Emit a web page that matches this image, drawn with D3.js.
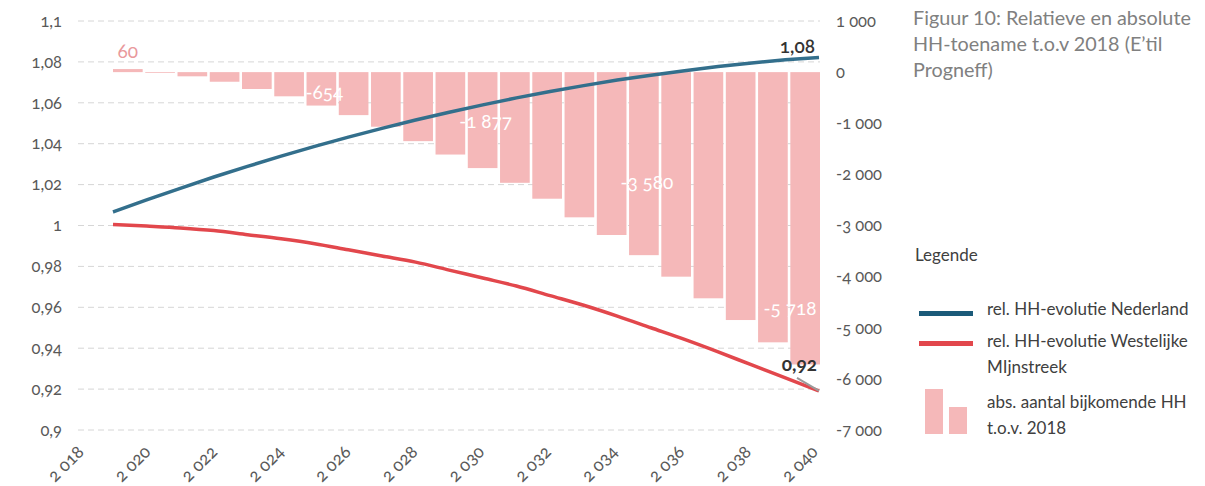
<!DOCTYPE html>
<html>
<head>
<meta charset="utf-8">
<script src="https://cdn.jsdelivr.net/npm/d3@7"></script>
<style>
  body { margin: 0; background: #fff; }
  svg { display: block; font-family: Lato, "Open Sans", sans-serif; }
  .num { font-variant-numeric: oldstyle-nums; font-feature-settings: "onum" 1; }
</style>
</head>
<body>
<svg id="chart" width="1205" height="486"></svg>
<script>
// Years with a bar / line value
const years = [2019, 2020, 2021, 2022, 2023, 2024, 2025, 2026, 2027, 2028, 2029,
               2030, 2031, 2032, 2033, 2034, 2035, 2036, 2037, 2038, 2039, 2040];
// Labelled years on the category axis
const tickYears = [2018, 2020, 2022, 2024, 2026, 2028, 2030, 2032, 2034, 2036, 2038, 2040];

// Absolute number of additional households compared with 2018
const absChange = [60, -15, -82, -188, -330, -473, -654, -841, -1068, -1350, -1612,
                   -1877, -2165, -2476, -2840, -3186, -3580, -4001, -4424, -4849, -5285, -5718];
// Relative household evolution (2018 = 1)
const relNederland = [1.0066, 1.0125, 1.0182, 1.0237, 1.0289, 1.0339, 1.0387, 1.0432, 1.0475, 1.0516, 1.0554,
                      1.0590, 1.0624, 1.0655, 1.0684, 1.0711, 1.0735, 1.0757, 1.0777, 1.0795, 1.0810, 1.0822];
const relWestMijnstreek = [1.0005, 0.9997, 0.9988, 0.9975, 0.9955, 0.9935, 0.9911, 0.9881, 0.9851, 0.9821, 0.9782,
                           0.9743, 0.9704, 0.9657, 0.9610, 0.9557, 0.9500, 0.9443, 0.9382, 0.9318, 0.9255, 0.9191];

const leftTicks = [0.9, 0.92, 0.94, 0.96, 0.98, 1, 1.02, 1.04, 1.06, 1.08, 1.1];
const rightTicks = [1000, 0, -1000, -2000, -3000, -4000, -5000, -6000, -7000];
const labelledBarYears = [2019, 2025, 2030, 2035, 2040];

const titleLines = ["Figuur 10: Relatieve en absolute", "HH-toename t.o.v 2018 (E’til", "Progneff)"];
const legendTitle = "Legende";
const legendNederland = ["rel. HH-evolutie Nederland"];
const legendWestMijnstreek = ["rel. HH-evolutie Westelijke", "MIjnstreek"];
const legendBars = ["abs. aantal bijkomende HH", "t.o.v. 2018"];

// ---- styling ----
const colBar = "#f5b8b9";
const colBlue = "#336f8c";
const colBlueLegend = "#1b5a79";
const colRed = "#e2474c";
const colAxis = "#595959";

const nl = d3.formatLocale({decimal: ",", thousands: " ", grouping: [3], currency: ["", ""], minus: "-"});
const fmtRel = nl.format(".3~g");
const fmtAbs = nl.format(",d");
const fmtEnd = nl.format(".2f");

const svg = d3.select("#chart");
svg.append("rect").attr("width", 1205).attr("height", 486).attr("fill", "#fff");

const plot = {left: 78, right: 820, top: 21, bottom: 430};

const yRel = d3.scaleLinear().domain([0.9, 1.1]).range([plot.bottom, plot.top]);
const yAbs = d3.scaleLinear().domain([-7000, 1000]).range([plot.bottom, plot.top]);
const xBand = d3.scaleBand().domain(years).range([113, 820]).paddingInner(0.08).paddingOuter(0);
const xLine = d3.scalePoint().domain(years).range([113, 819]);
const xTick = d3.scaleLinear().domain([2018, 2040]).range([85, 819]);

// dashed gridlines on the left-axis ticks
svg.append("g").selectAll("line").data(leftTicks).join("line")
  .attr("x1", plot.left).attr("x2", plot.right)
  .attr("y1", d => yRel(d)).attr("y2", d => yRel(d))
  .attr("stroke", "#d6d6d6").attr("stroke-width", 1).attr("stroke-dasharray", "6,4");

// left axis
const leftAxis = d3.axisLeft(yRel).tickValues(leftTicks).tickFormat(fmtRel).tickSize(0).tickPadding(0);
svg.append("g").attr("transform", "translate(62,0)").call(leftAxis)
  .call(g => g.select(".domain").remove())
  .selectAll("text").attr("class", "num").attr("fill", colAxis)
  .style("font-size", "16.5px").style("font-family", "Lato, sans-serif");

// right axis
const rightAxis = d3.axisRight(yAbs).tickValues(rightTicks).tickFormat(fmtAbs).tickSize(0).tickPadding(0);
svg.append("g").attr("transform", "translate(836,0)").call(rightAxis)
  .call(g => g.select(".domain").remove())
  .selectAll("text").attr("class", "num").attr("fill", colAxis)
  .style("font-size", "16.5px").style("font-family", "Lato, sans-serif");

// rotated year labels
svg.append("g").selectAll("text").data(tickYears).join("text")
  .attr("class", "num")
  .attr("transform", d => `translate(${xTick(d)},453) rotate(-45)`)
  .attr("text-anchor", "end")
  .attr("fill", colAxis).style("font-size", "17.5px")
  .text(d => fmtAbs(d));

// bars
const barData = years.map((y, i) => ({year: y, value: absChange[i]}));
svg.append("g").selectAll("rect").data(barData).join("rect")
  .attr("x", d => xBand(d.year))
  .attr("width", xBand.bandwidth())
  .attr("y", d => Math.min(yAbs(d.value), yAbs(0)))
  .attr("height", d => Math.abs(yAbs(d.value) - yAbs(0)))
  .attr("fill", colBar);

// bar value labels
const labelDepth = {2025: 0.8, 2030: 0.58, 2035: 0.64, 2040: 0.83};
const labelled = barData.filter(d => labelledBarYears.includes(d.year));
svg.append("g").selectAll("text").data(labelled).join("text")
  .attr("class", "num")
  .attr("x", d => Math.min(xBand(d.year) + xBand.bandwidth() / 2 + (d.value < 0 ? 3 : 0), 790))
  .attr("y", d => d.value > 0 ? yAbs(d.value) - 11 : yAbs(0) + (yAbs(d.value) - yAbs(0)) * labelDepth[d.year])
  .attr("text-anchor", "middle")
  .attr("fill", d => d.value > 0 ? "#e9999c" : "#fff")
  .style("font-size", "19px")
  .text(d => fmtAbs(d.value));

// lines
const line = d3.line().x(d => xLine(d.year)).y(d => yRel(d.value)).curve(d3.curveMonotoneX);
const nlData = years.map((y, i) => ({year: y, value: relNederland[i]}));
const wmData = years.map((y, i) => ({year: y, value: relWestMijnstreek[i]}));

svg.append("path").datum(wmData).attr("d", line)
  .attr("fill", "none").attr("stroke", colRed).attr("stroke-width", 3.5);
svg.append("path").datum(nlData).attr("d", line)
  .attr("fill", "none").attr("stroke", colBlue).attr("stroke-width", 3.5);

// end-value labels
const lastNL = nlData[nlData.length - 1];
const lastWM = wmData[wmData.length - 1];
svg.append("text").attr("class", "num")
  .attr("x", xLine(lastNL.year) - 4).attr("y", yRel(lastNL.value) - 4)
  .attr("text-anchor", "end").attr("fill", "#333").style("font-size", "19px").style("font-weight", 600)
  .text(fmtEnd(lastNL.value));
svg.append("line")
  .attr("x1", xLine(lastWM.year) - 22).attr("y1", yRel(lastWM.value) - 13)
  .attr("x2", xLine(lastWM.year)).attr("y2", yRel(lastWM.value))
  .attr("stroke", "#9a9a9a").attr("stroke-width", 2);
svg.append("text").attr("class", "num")
  .attr("x", xLine(lastWM.year) - 2).attr("y", yRel(lastWM.value) - 20)
  .attr("text-anchor", "end").attr("fill", "#333").style("font-size", "19px").style("font-weight", 700)
  .text(fmtEnd(lastWM.value));

// title
svg.append("g").selectAll("text").data(titleLines).join("text")
  .attr("x", 913).attr("y", (d, i) => 25 + i * 26)
  .attr("fill", "#808080").style("font-size", "19.8px")
  .text(d => d);

// legend
const lg = svg.append("g").attr("fill", "#404040").style("font-size", "17px");
lg.append("text").attr("x", 915).attr("y", 261).text(legendTitle);

lg.append("rect").attr("x", 919).attr("y", 311).attr("width", 54).attr("height", 5).attr("fill", colBlueLegend);
lg.selectAll(".t1").data(legendNederland).join("text").attr("class", "t1")
  .attr("x", 987).attr("y", (d, i) => 315 + i * 26).text(d => d);

lg.append("rect").attr("x", 919).attr("y", 341).attr("width", 54).attr("height", 5).attr("fill", colRed);
lg.selectAll(".t2").data(legendWestMijnstreek).join("text").attr("class", "t2")
  .attr("x", 987).attr("y", (d, i) => 347 + i * 26).text(d => d);

lg.append("rect").attr("x", 925).attr("y", 389).attr("width", 18).attr("height", 45).attr("fill", colBar);
lg.append("rect").attr("x", 949).attr("y", 407).attr("width", 18).attr("height", 27).attr("fill", colBar);
lg.selectAll(".t3").data(legendBars).join("text").attr("class", "t3")
  .attr("x", 987).attr("y", (d, i) => 408 + i * 26).text(d => d);
</script>
</body>
</html>
